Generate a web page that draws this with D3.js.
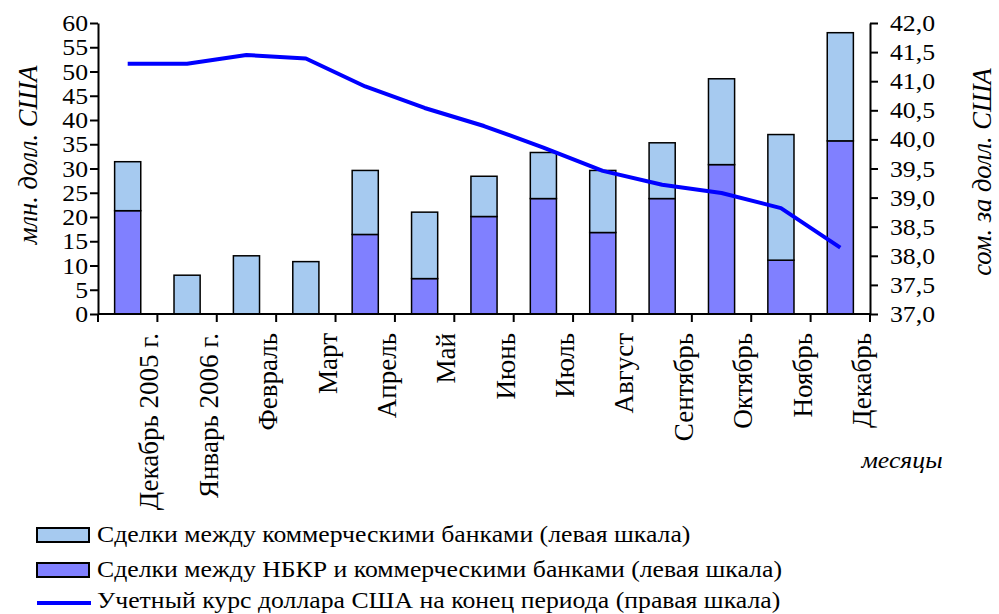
<!DOCTYPE html>
<html><head><meta charset="utf-8">
<script src="https://cdn.jsdelivr.net/npm/d3@7/dist/d3.min.js"></script>
<style>
html,body{margin:0;padding:0;background:#fff;}
svg text{font-family:"Liberation Serif","Times New Roman",serif;fill:#000;}
</style></head>
<body><svg id="c" width="999" height="614"></svg>
<script>
const months = ["Декабрь 2005 г.","Январь 2006 г.","Февраль","Март","Апрель","Май","Июнь","Июль","Август","Сентябрь","Октябрь","Ноябрь","Декабрь"];
const nbkrDeals = [21.3,0,0,0,16.4,7.3,20.1,23.8,16.8,23.8,30.8,11.1,35.7];
const commercialDeals = [10.1,8.0,12.0,10.8,13.2,13.7,8.3,9.5,12.8,11.5,17.7,25.9,22.3];
const usdRate = [41.30,41.30,41.45,41.39,40.91,40.54,40.23,39.86,39.46,39.22,39.08,38.82,38.14];
const leftTicks = [0,5,10,15,20,25,30,35,40,45,50,55,60];
const rightTicks = [37.0,37.5,38.0,38.5,39.0,39.5,40.0,40.5,41.0,41.5,42.0];
const legendLabels = ["Сделки между коммерческими банками (левая шкала)","Сделки между НБКР и коммерческими банками (левая шкала)","Учетный курс доллара США на конец периода (правая шкала)"];

const SX = 1.12, FS = 23, FV = 26.5;
const svg = d3.select("#c");
const L = 98, R = 870, T = 23, B = 314;
const x = d3.scaleBand().domain(months).range([L, R]).padding(0);
const y = d3.scaleLinear().domain([0, 60]).range([B, T]);
const yr = d3.scaleLinear().domain([37, 42]).range([B, T]);
const colLight = "#A6CAF0", colDark = "#8080FF", colLine = "#0000FF";
const bw = x.bandwidth() * 0.44;

// bars
const data = months.map((m, i) => ({m, a: nbkrDeals[i], b: commercialDeals[i]}));
const g = svg.append("g");
data.forEach(d => {
  const cx = x(d.m) + x.bandwidth() / 2;
  if (d.a > 0) g.append("rect").attr("x", cx - bw/2).attr("width", bw)
    .attr("y", y(d.a)).attr("height", y(0) - y(d.a))
    .attr("fill", colDark).attr("stroke", "#000").attr("stroke-width", 1.5);
  g.append("rect").attr("x", cx - bw/2).attr("width", bw)
    .attr("y", y(d.a + d.b)).attr("height", y(d.a) - y(d.a + d.b))
    .attr("fill", colLight).attr("stroke", "#000").attr("stroke-width", 1.5);
});

// line
const line = d3.line().x((d, i) => x(months[i]) + x.bandwidth()/2).y(d => yr(d));
svg.append("path").datum(usdRate).attr("d", line).attr("fill", "none")
  .attr("stroke", colLine).attr("stroke-width", 4).attr("stroke-linejoin", "round");

// axes
function styleAxis(sel){ sel.selectAll("path,line").attr("stroke","#000").attr("stroke-width",2); sel.selectAll("text").remove(); }
const bounds = months.map(m => x(m)).concat([R]);
svg.append("g").selectAll("line").data(bounds).join("line")
  .attr("x1", d => d).attr("x2", d => d).attr("y1", B).attr("y2", B + 8)
  .attr("stroke", "#000").attr("stroke-width", 2);
svg.append("line").attr("x1", L).attr("x2", R).attr("y1", B).attr("y2", B).attr("stroke","#000").attr("stroke-width",2);

const al = svg.append("g").attr("transform", `translate(${L},0)`)
  .call(d3.axisLeft(y).tickValues(leftTicks).tickSize(8).tickSizeOuter(0));
styleAxis(al);
const ar = svg.append("g").attr("transform", `translate(${R},0)`)
  .call(d3.axisRight(yr).tickValues(rightTicks).tickSize(8).tickSizeOuter(0));
styleAxis(ar);

// text helper
function txt(xp, yp, s, opts = {}) {
  const sx = opts.sx == null ? SX : opts.sx;
  const t = svg.append("text").attr("font-size", opts.fs || FS)
    .attr("text-anchor", opts.anchor || "start")
    .attr("transform", `translate(${xp},${yp}) scale(${sx},1)` + (opts.rot ? ` rotate(${opts.rot})` : ""))
    .text(s);
  if (opts.italic) t.attr("font-style", "italic");
  if (opts.dy) t.attr("dy", opts.dy);
  return t;
}
leftTicks.forEach(v => txt(L - 10, y(v), String(v), {anchor: "end", dy: "0.35em"}));
rightTicks.forEach(v => txt(R + 20, yr(v), d3.format(".1f")(v).replace(".", ","), {dy: "0.35em"}));
months.forEach(m => txt(x(m) + x.bandwidth() + 1, B + 19, m, {anchor: "end", rot: -90, fs: 27, sx: 1}));

// axis titles
txt(37, 155, "млн. долл. США", {anchor: "middle", rot: -90, italic: true, fs: FV, sx: 1});
txt(991, 172, "сом. за долл. США", {anchor: "middle", rot: -90, italic: true, fs: FV, sx: 1});
txt(902, 468, "месяцы", {anchor: "middle", italic: true});

// legend
const lg = svg.append("g");
const swY = [535, 570];
const baseY = [542, 577, 608];
lg.append("rect").attr("x", 37).attr("y", swY[0]-7).attr("width", 52).attr("height", 14).attr("fill", colLight).attr("stroke","#000").attr("stroke-width",2);
lg.append("rect").attr("x", 37).attr("y", swY[1]-7).attr("width", 52).attr("height", 14).attr("fill", colDark).attr("stroke","#000").attr("stroke-width",2);
lg.append("line").attr("x1", 37).attr("x2", 91).attr("y1", 603).attr("y2", 603).attr("stroke", colLine).attr("stroke-width", 4);
legendLabels.forEach((s, i) => txt(97, baseY[i], s));
</script></body></html>
